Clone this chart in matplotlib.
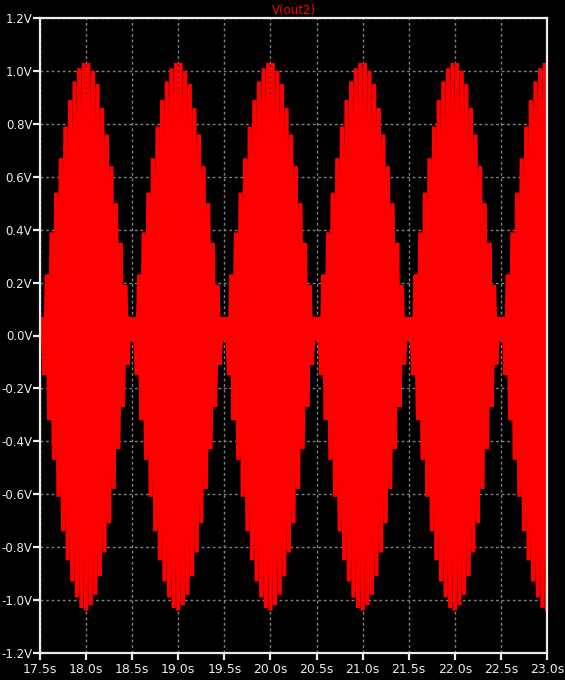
import matplotlib
matplotlib.use('Agg')
import matplotlib.pyplot as plt
import numpy as np

# V(out2) transient trace.
# The envelope repeats every second (nulls at .5 s), so peaks are read per lobe.
lobe_start = [17.5, 18.5, 19.5, 20.5, 21.5, 22.5]

# negative peaks: time offset inside a lobe (s) and value (V)
neg_offset = [0.00, 0.05, 0.10, 0.15, 0.20, 0.25, 0.30, 0.35, 0.40, 0.45,
              0.50, 0.55, 0.60, 0.65, 0.70, 0.75, 0.80, 0.85, 0.90, 0.95]
neg_peak = [-0.02, -0.15, -0.32, -0.47, -0.61, -0.74, -0.85, -0.93, -0.99, -1.03,
            -1.04, -1.02, -0.98, -0.91, -0.82, -0.71, -0.58, -0.43, -0.27, -0.11]

# positive peaks, half a carrier period later
pos_offset = [0.025, 0.075, 0.125, 0.175, 0.225, 0.275, 0.325, 0.375, 0.425, 0.475,
              0.525, 0.575, 0.625, 0.675, 0.725, 0.775, 0.825, 0.875, 0.925, 0.975]
pos_peak = [0.07, 0.23, 0.39, 0.54, 0.67, 0.79, 0.89, 0.96, 1.01, 1.03,
            1.03, 1.00, 0.95, 0.86, 0.76, 0.64, 0.50, 0.35, 0.19, 0.07]

x_ticks = [17.5, 18.0, 18.5, 19.0, 19.5, 20.0, 20.5, 21.0, 21.5, 22.0, 22.5, 23.0]
x_labels = ['17.5s', '18.0s', '18.5s', '19.0s', '19.5s', '20.0s',
            '20.5s', '21.0s', '21.5s', '22.0s', '22.5s', '23.0s']
y_ticks = [-1.2, -1.0, -0.8, -0.6, -0.4, -0.2, 0.0, 0.2, 0.4, 0.6, 0.8, 1.0, 1.2]
y_labels = ['-1.2V', '-1.0V', '-0.8V', '-0.6V', '-0.4V', '-0.2V', '0.0V',
            '0.2V', '0.4V', '0.6V', '0.8V', '1.0V', '1.2V']

# interleave the peaks into one zigzag trace
t, v = [], []
for s in lobe_start:
    for k in range(len(neg_offset)):
        t += [s + neg_offset[k], s + pos_offset[k]]
        v += [neg_peak[k], pos_peak[k]]

fg = '#ececec'
fig = plt.figure(figsize=(5.65, 6.8), dpi=100, facecolor='black')
ax = fig.add_axes([40 / 565, 1 - 653 / 680, 507 / 565, 635 / 680], facecolor='black')

ax.plot(t, v, color='#ff0000', lw=3.0, solid_joinstyle='bevel', zorder=2)

ax.set_xlim(17.5, 23.0)
ax.set_ylim(-1.2, 1.2)
ax.set_xticks(x_ticks)
ax.set_xticklabels(x_labels)
ax.set_yticks(y_ticks)
ax.set_yticklabels(y_labels)

ax.grid(True, color='#808080', lw=1.0, linestyle=(0, (2, 2)))
ax.set_axisbelow(True)

for sp in ax.spines.values():
    sp.set_color(fg)
    sp.set_linewidth(1.6)
    sp.set_zorder(3)

ax.tick_params(colors=fg, direction='out', length=5, width=1.6,
               labelsize=8.5, pad=0.5)
ax.tick_params(axis='x', labelsize=9, pad=2)

ax.set_title('V(out2)', color='#ff0000', fontsize=8.5, pad=3)

fig.savefig('out.png', dpi=100, facecolor='black')
